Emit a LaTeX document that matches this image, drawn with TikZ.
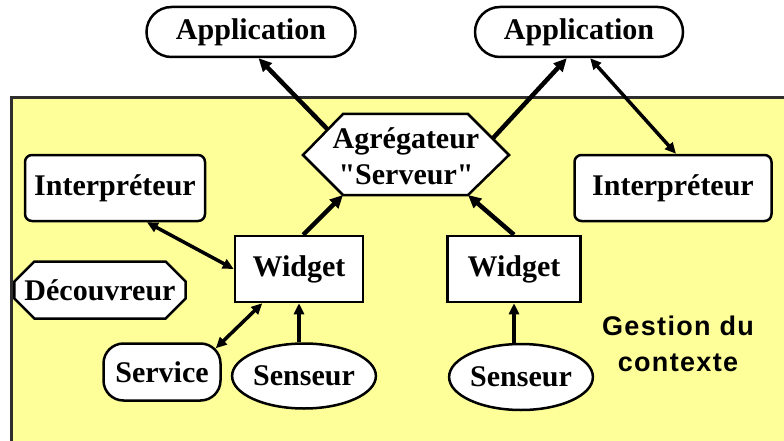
\documentclass[tikz,border=0pt]{standalone}
\usepackage{fontspec}
\setmainfont{Liberation Serif}[Ligatures=TeXOff]
\newfontfamily\ctxsans[LetterSpace=5]{Liberation Sans}
\usetikzlibrary{arrows.meta,shapes.geometric,shapes.misc,calc}
\definecolor{ctxyellow}{HTML}{FFFF99}
\definecolor{ctxborder}{HTML}{2E2E2E}

\tikzset{
  box/.style={draw=black, fill=white, line width=2.5pt, inner sep=0pt,
    align=center, font=\fontsize{30}{36}\selectfont\bfseries},
  stadium/.style={box, rounded corners=25pt},
  roundbox/.style={box, rounded corners=7pt},
  pill/.style={box, rounded corners=20pt},
  plainbox/.style={box},
  oval/.style={box, ellipse},
  octo/.style={box, chamfered rectangle, chamfered rectangle xsep=10pt,
    chamfered rectangle ysep=10pt},
  bigflow/.style={line width=4.5pt, -{Triangle[length=13pt,width=12pt]}},
  flow/.style={line width=3.5pt, -{Triangle[length=11pt,width=10pt]}},
  twoway/.style={line width=3.5pt, {Triangle[length=11pt,width=10pt]}-{Triangle[length=11pt,width=10pt]}},
}

\begin{document}
\begin{tikzpicture}[x=1pt,y=-1pt]
\useasboundingbox (0,0) rectangle (784,441);

% context area
\fill[ctxyellow] (11,98) rectangle (784,441);
\draw[ctxborder, line width=3pt] (11,442) -- (11,98) -- (785,98);

% applications
\node[stadium, minimum width=209pt, minimum height=50pt] (app1) at (251,32) {Application};
\node[stadium, minimum width=208pt, minimum height=50pt] (app2) at (579,32) {Application};

% aggregator hexagon
\coordinate (hL)  at (303,155);
\coordinate (hTL) at (343,114);
\coordinate (hTR) at (468,114);
\coordinate (hR)  at (509,155);
\coordinate (hBR) at (468,195);
\coordinate (hBL) at (343,195);
\filldraw[fill=white, draw=black, line width=2.5pt, line join=miter]
  (hL) -- (hTL) -- (hTR) -- (hR) -- (hBR) -- (hBL) -- cycle;
\node[align=center, inner sep=0pt, font=\fontsize{30}{36}\selectfont\bfseries]
  (agg) at (406,156) {Agrégateur\\"Serveur"};
\coordinate (aggUL) at ($(hL)!0.62!(hTL)$);
\coordinate (aggUR) at ($(hTR)!0.6!(hR)$);

% interpreters, widgets, discoverer
\node[roundbox, minimum width=180pt, minimum height=66pt] (intL) at (115,188) {Interpréteur};
\node[roundbox, minimum width=197pt, minimum height=66pt] (intR) at (673,188) {Interpréteur};
\node[plainbox, minimum width=128pt, minimum height=66pt] (widL) at (299,269) {Widget};
\node[plainbox, minimum width=133pt, minimum height=66pt] (widR) at (514,269) {Widget};
\node[octo, minimum width=165pt, minimum height=57pt] (dec) at (100,290) {Découvreur};

% service and sensors
\node[pill, minimum width=117pt, minimum height=57pt] (serv) at (162,372) {Service};
\node[oval, minimum width=125pt, minimum height=65pt] (sensL) at (304,376) {Senseur};
\node[oval, minimum width=127pt, minimum height=66pt] (sensR) at (521,377) {Senseur};

% label of the context area
\node[align=center, inner sep=0pt, font=\fontsize{27}{36}\selectfont\ctxsans\bfseries]
  (ctx) at (678,344) {Gestion du\\contexte};

% connectors
\draw[bigflow] (aggUL) -- (app1.-74);
\draw[bigflow] (aggUR) -- (app2.-115);
\draw[twoway] (app2.-67) -- (intR.85);
\draw[bigflow] (widL.83) -- (hBL);
\draw[bigflow] (widR.north) -- (hBR);
\draw[twoway] (intL.-47) -- (widL.west);
\draw[twoway] ($(serv.north east)+(-6,6)$) -- (widL.-137);
\draw[flow] (widL.south |- sensL.north) -- (widL.south);
\draw[flow] (widR.south |- sensR.north) -- (widR.south);
\end{tikzpicture}
\end{document}
